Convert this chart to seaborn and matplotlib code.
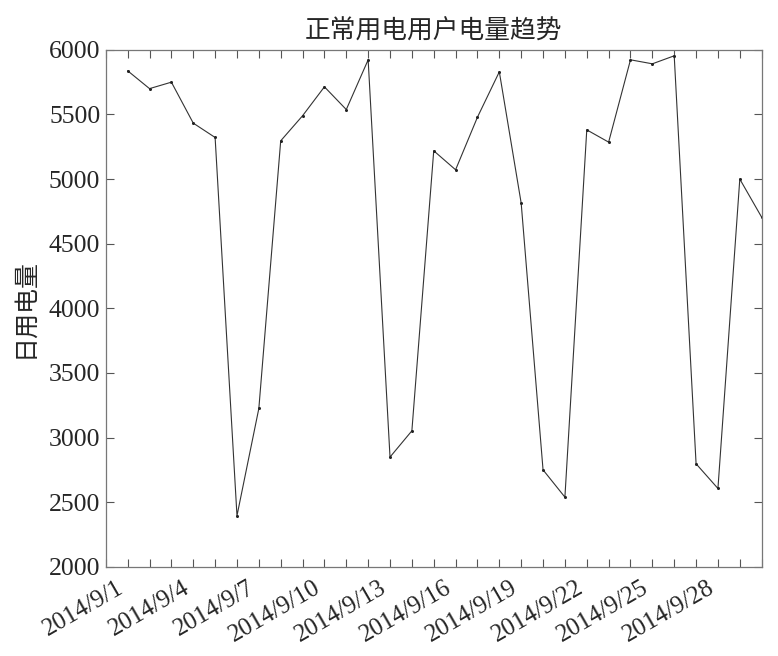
import matplotlib
matplotlib.use("Agg")
import matplotlib.pyplot as plt
import matplotlib.dates as mdates
from matplotlib.ticker import FuncFormatter
import pandas as pd
import seaborn as sns

# daily usage, 2014/9/1 .. 2014/9/30
days = pd.date_range("2014-09-01", "2014-09-30", freq="D")
usage = [5838, 5700, 5750, 5433, 5322, 2395, 3225, 5296, 5490, 5714,
         5538, 5923, 2849, 3052, 5219, 5072, 5479, 5830, 4814, 2750,
         2539, 5381, 5286, 5923, 5892, 5954, 2797, 2606, 5000, 4705]
y_ticks = [2000, 2500, 3000, 3500, 4000, 4500, 5000, 5500, 6000]

df = pd.DataFrame({"date": days, "usage": usage})

sns.set_style("ticks")
plt.rcParams["font.family"] = ["Liberation Serif", "Noto Sans CJK SC"]

fig = plt.figure(figsize=(7.78, 6.56), dpi=100)
ax = fig.add_axes([0.136, 0.136, 0.843, 0.788])

sns.lineplot(data=df, x="date", y="usage", ax=ax, color="#333333",
             linewidth=0.8, marker="o", markersize=2.2,
             markeredgewidth=0, markerfacecolor="#222222")

ax.set_xlim(pd.Timestamp("2014-08-31"), pd.Timestamp("2014-09-30"))
ax.set_ylim(2000, 6000)
ax.set_yticks(y_ticks)

ax.xaxis.set_major_locator(mdates.DayLocator(bymonthday=range(1, 31, 3)))
ax.xaxis.set_minor_locator(mdates.DayLocator())
ax.xaxis.set_major_formatter(FuncFormatter(
    lambda v, pos: "{d.year}/{d.month}/{d.day}".format(d=mdates.num2date(v))))

ax.tick_params(axis="both", which="both", direction="in",
               top=True, right=True, color="#555555", width=0.8)
ax.tick_params(axis="x", which="major", length=6, labelsize=18, pad=7)
ax.tick_params(axis="x", which="minor", length=6)
ax.tick_params(axis="y", length=6, labelsize=18.5, pad=4)
for lbl in ax.get_xticklabels():
    lbl.set_rotation(30)
    lbl.set_ha("right")

for s in ax.spines.values():
    s.set_color("#777777")
    s.set_linewidth(0.9)

ax.set_xlabel("")
ax.set_ylabel("日用电量", fontsize=18, labelpad=9)
ax.set_title("正常用电用户电量趋势", fontsize=18.5, pad=8)

fig.savefig("out.png", dpi=100)
